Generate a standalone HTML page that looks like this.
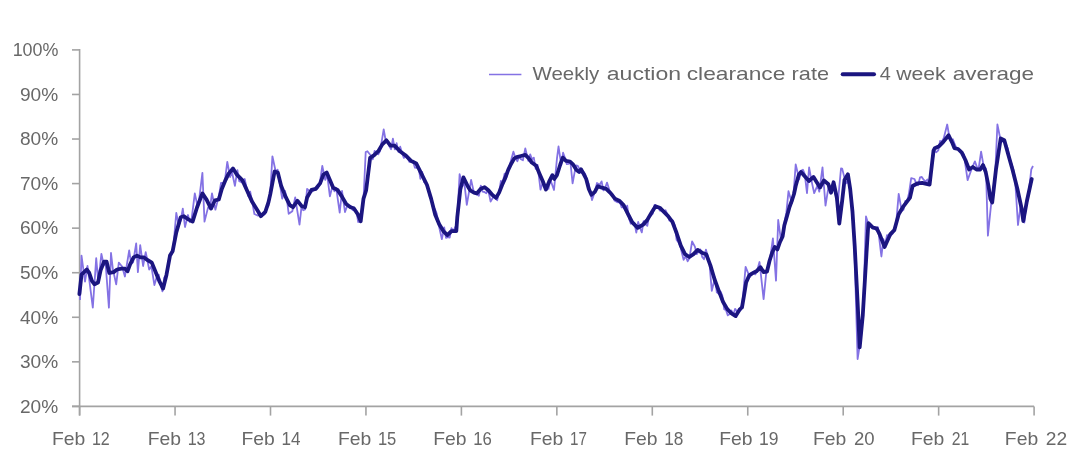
<!DOCTYPE html>
<html><head><meta charset="utf-8"><style>
html,body{margin:0;padding:0;background:#fff;}
body{width:1082px;height:461px;overflow:hidden;position:relative;}
svg{position:absolute;left:0;top:0;filter:blur(0.45px);}
text{font-family:"Liberation Sans",sans-serif;font-size:18.4px;fill:#686868;}
</style></head><body>
<svg width="1082" height="461" viewBox="0 0 1082 461">
<g stroke="#a3a3a3" stroke-width="1.6" fill="none">
<line x1="79.6" y1="49.1" x2="79.6" y2="415.6"/>
<line x1="72" y1="406.4" x2="1034.1" y2="406.4"/>
<line x1="72" y1="49.9" x2="79.6" y2="49.9"/><line x1="72" y1="94.4625" x2="79.6" y2="94.4625"/><line x1="72" y1="139.025" x2="79.6" y2="139.025"/><line x1="72" y1="183.5875" x2="79.6" y2="183.5875"/><line x1="72" y1="228.15" x2="79.6" y2="228.15"/><line x1="72" y1="272.7125" x2="79.6" y2="272.7125"/><line x1="72" y1="317.275" x2="79.6" y2="317.275"/><line x1="72" y1="361.8375" x2="79.6" y2="361.8375"/><line x1="72" y1="406.4" x2="79.6" y2="406.4"/><line x1="79.60" y1="406.4" x2="79.60" y2="415.6"/><line x1="175.05" y1="406.4" x2="175.05" y2="415.6"/><line x1="270.50" y1="406.4" x2="270.50" y2="415.6"/><line x1="365.95" y1="406.4" x2="365.95" y2="415.6"/><line x1="461.40" y1="406.4" x2="461.40" y2="415.6"/><line x1="556.85" y1="406.4" x2="556.85" y2="415.6"/><line x1="652.30" y1="406.4" x2="652.30" y2="415.6"/><line x1="747.75" y1="406.4" x2="747.75" y2="415.6"/><line x1="843.20" y1="406.4" x2="843.20" y2="415.6"/><line x1="938.65" y1="406.4" x2="938.65" y2="415.6"/><line x1="1034.10" y1="406.4" x2="1034.10" y2="415.6"/>
</g>
<text transform="translate(12.63,56.20) scale(0.9739,1)">100%</text><text transform="translate(20.00,100.76) scale(1.0378,1)">90%</text><text transform="translate(20.00,145.33) scale(1.0378,1)">80%</text><text transform="translate(20.00,189.89) scale(1.0378,1)">70%</text><text transform="translate(20.00,234.45) scale(1.0378,1)">60%</text><text transform="translate(20.00,279.01) scale(1.0378,1)">50%</text><text transform="translate(20.00,323.57) scale(1.0378,1)">40%</text><text transform="translate(20.00,368.14) scale(1.0378,1)">30%</text><text transform="translate(20.00,412.70) scale(1.0378,1)">20%</text><text transform="translate(51.95,445.00) scale(1.0516,1)">Feb</text><text transform="translate(91.93,445.00) scale(0.8737,1)">12</text><text transform="translate(147.65,445.00) scale(1.0516,1)">Feb</text><text transform="translate(187.63,445.00) scale(0.8737,1)">13</text><text transform="translate(241.55,445.00) scale(1.0516,1)">Feb</text><text transform="translate(281.47,445.00) scale(0.9300,1)">14</text><text transform="translate(337.95,445.00) scale(1.0516,1)">Feb</text><text transform="translate(377.90,445.00) scale(0.9000,1)">15</text><text transform="translate(433.25,445.00) scale(1.0516,1)">Feb</text><text transform="translate(473.19,445.00) scale(0.9105,1)">16</text><text transform="translate(529.95,445.00) scale(1.0516,1)">Feb</text><text transform="translate(569.97,445.00) scale(0.8263,1)">17</text><text transform="translate(624.25,445.00) scale(1.0516,1)">Feb</text><text transform="translate(664.16,445.00) scale(0.9368,1)">18</text><text transform="translate(719.15,445.00) scale(1.0516,1)">Feb</text><text transform="translate(759.05,445.00) scale(0.9526,1)">19</text><text transform="translate(813.05,445.00) scale(1.0516,1)">Feb</text><text transform="translate(853.90,445.00) scale(1.0095,1)">20</text><text transform="translate(910.95,445.00) scale(1.0516,1)">Feb</text><text transform="translate(951.80,445.00) scale(0.8550,1)">21</text><text transform="translate(1004.85,445.00) scale(1.0516,1)">Feb</text><text transform="translate(1045.70,445.00) scale(1.0450,1)">22</text><text transform="translate(532.50,80.00) scale(1.1133,1)">Weekly</text><text transform="translate(606.80,80.00) scale(1.2525,1)">auction</text><text transform="translate(686.70,80.00) scale(1.2375,1)">clearance</text><text transform="translate(791.60,80.00) scale(1.1812,1)">rate</text><text transform="translate(879.80,80.00) scale(1.0800,1)">4</text><text transform="translate(896.20,80.00) scale(1.1512,1)">week</text><text transform="translate(952.80,80.00) scale(1.2242,1)">average</text>
<path d="M80.0,300.0 L81.5,255.6 L85.0,281.7 L87.5,266.0 L92.8,307.7 L96.2,258.2 L98.3,282.4 L101.4,253.9 L103.8,265.0 L105.6,263.3 L108.9,307.7 L111.0,253.0 L112.9,269.4 L116.2,284.3 L118.8,262.6 L122.1,266.5 L124.9,276.5 L129.2,250.4 L131.2,263.8 L133.1,262.3 L136.2,243.5 L137.9,272.1 L140.2,245.2 L143.1,266.0 L145.7,252.2 L149.2,269.5 L151.4,266.3 L154.4,285.1 L156.9,276.4 L158.7,274.7 L160.5,283.7 L162.4,291.3 L164.2,277.7 L166.0,275.7 L167.8,267.0 L169.7,254.8 L171.5,254.7 L173.3,247.4 L176.3,212.9 L178.8,225.8 L180.7,220.4 L182.8,208.6 L185.0,227.0 L188.0,215.0 L189.8,222.1 L191.6,219.1 L194.8,193.4 L197.1,204.1 L199.0,200.7 L202.4,172.8 L204.5,221.6 L208.1,207.4 L209.9,208.3 L212.0,193.4 L215.4,209.7 L219.1,194.9 L221.0,183.0 L224.6,182.8 L227.3,161.9 L230.1,177.0 L231.9,171.7 L234.9,185.8 L237.4,170.2 L239.2,181.2 L241.0,182.0 L242.9,182.9 L244.7,179.0 L246.5,187.5 L248.4,196.2 L250.2,191.7 L252.0,200.9 L254.4,214.0 L257.5,215.5 L259.3,215.3 L261.2,215.4 L263.0,215.1 L264.8,214.3 L266.7,208.1 L268.5,205.8 L270.3,192.0 L272.4,156.3 L275.8,172.0 L277.6,169.6 L279.5,182.2 L282.2,198.6 L285.0,190.9 L286.8,198.7 L288.7,213.8 L292.3,211.2 L295.2,197.5 L299.5,224.6 L301.4,207.9 L303.3,210.3 L305.1,209.5 L307.1,188.8 L310.6,192.0 L312.4,191.5 L314.2,188.6 L316.1,189.3 L317.9,188.0 L319.7,183.9 L322.3,166.0 L325.2,179.9 L327.1,174.4 L329.9,196.4 L332.5,186.1 L334.4,191.3 L336.2,188.2 L339.7,212.7 L342.0,191.0 L345.0,212.0 L347.2,206.0 L349.0,206.9 L350.8,205.9 L352.7,210.0 L354.5,210.3 L356.3,210.5 L358.2,222.0 L360.0,220.7 L361.8,210.4 L363.6,197.8 L365.7,152.0 L367.4,151.2 L371.0,155.8 L372.8,159.3 L374.6,151.0 L376.5,152.8 L378.3,154.3 L380.1,150.8 L383.7,129.5 L385.6,140.0 L387.4,140.6 L389.3,146.1 L391.1,149.2 L392.9,138.7 L394.8,149.4 L396.6,143.2 L398.4,151.9 L400.2,146.7 L402.1,153.3 L403.9,157.9 L405.7,155.1 L407.6,158.0 L409.4,161.8 L411.2,161.4 L413.1,161.5 L414.9,167.7 L416.7,167.8 L418.5,167.2 L420.4,178.8 L422.2,171.8 L424.0,182.0 L425.9,181.9 L427.7,187.7 L429.5,195.6 L431.4,200.3 L433.2,208.9 L435.0,209.2 L436.8,213.9 L438.7,225.0 L441.9,239.2 L444.2,227.3 L446.0,237.9 L447.8,237.1 L449.7,237.6 L451.5,228.1 L453.3,231.1 L455.1,227.5 L457.0,224.0 L459.6,174.2 L462.5,186.0 L464.3,182.4 L466.8,204.8 L471.1,179.9 L473.4,190.3 L475.3,194.2 L477.1,194.5 L478.9,195.8 L480.8,185.6 L482.6,191.7 L484.4,192.0 L486.3,193.2 L488.1,189.5 L490.6,201.6 L493.6,196.3 L495.4,197.8 L497.2,200.3 L499.1,191.8 L500.9,181.0 L502.7,182.4 L504.6,173.6 L506.4,177.4 L508.2,170.8 L510.0,164.1 L513.4,151.7 L515.5,158.0 L517.4,161.2 L519.2,156.3 L521.0,159.3 L522.9,160.3 L525.3,148.4 L528.3,160.8 L530.2,154.3 L532.0,159.2 L533.8,157.7 L535.7,168.8 L537.5,164.9 L540.5,189.7 L543.0,181.7 L544.8,184.7 L546.6,188.4 L548.5,188.9 L550.3,179.5 L554.0,190.0 L557.0,158.2 L558.5,146.5 L561.3,165.2 L563.1,152.7 L564.9,157.8 L566.8,164.2 L568.6,163.8 L570.4,162.0 L572.6,183.4 L575.9,165.3 L577.8,165.9 L579.6,169.2 L581.4,173.0 L583.3,171.5 L585.1,173.9 L586.9,179.3 L588.7,183.9 L592.0,200.0 L594.2,193.6 L597.0,183.0 L599.7,184.8 L601.6,181.4 L603.4,190.4 L605.2,187.7 L607.0,182.6 L608.9,188.6 L610.7,194.2 L612.5,194.1 L614.4,200.4 L616.2,201.6 L618.0,202.3 L619.9,202.4 L621.7,207.4 L623.5,207.1 L625.3,210.1 L627.2,205.7 L629.0,218.8 L630.8,223.7 L632.7,221.8 L634.5,223.1 L636.3,232.7 L638.2,222.0 L640.0,228.0 L641.8,232.4 L643.6,221.1 L645.5,224.3 L647.3,225.9 L649.1,216.4 L651.0,215.5 L652.8,213.6 L654.6,204.8 L656.5,206.3 L658.3,208.2 L660.1,210.8 L661.9,209.8 L663.8,211.1 L665.6,210.3 L667.4,214.3 L669.3,220.5 L671.1,220.4 L672.9,220.5 L674.8,225.4 L676.6,240.0 L678.4,242.1 L680.2,246.0 L683.6,259.8 L685.7,256.2 L687.6,261.3 L689.4,258.3 L692.1,241.5 L694.9,246.6 L696.7,254.2 L698.5,251.5 L700.4,249.4 L702.2,257.0 L704.0,259.2 L705.9,249.6 L707.7,256.0 L709.5,264.0 L711.8,290.8 L715.0,277.5 L716.8,292.3 L718.7,293.8 L720.5,291.4 L722.3,295.7 L724.2,309.2 L726.0,310.1 L727.8,315.4 L729.7,314.0 L731.5,310.5 L733.3,315.3 L735.1,308.8 L737.0,311.6 L738.8,310.9 L740.6,310.2 L742.5,302.4 L745.6,266.8 L746.1,268.2 L749.8,277.1 L751.6,274.5 L753.4,271.8 L755.3,274.4 L757.1,270.8 L759.5,262.0 L763.6,299.1 L766.3,272.1 L768.1,267.0 L769.9,260.3 L772.9,238.4 L776.0,280.6 L778.2,220.0 L780.9,239.5 L782.7,237.2 L784.6,221.5 L786.4,212.2 L788.5,191.2 L791.9,203.0 L793.7,191.5 L795.7,164.4 L799.2,179.3 L801.0,170.8 L802.9,169.7 L804.7,173.8 L807.0,193.2 L809.1,167.5 L812.0,183.1 L814.2,193.2 L817.5,185.4 L819.3,191.7 L822.5,167.4 L825.5,205.6 L828.5,186.9 L830.3,189.6 L832.1,191.7 L834.0,185.9 L835.8,195.6 L837.6,205.0 L841.0,168.5 L842.2,168.6 L844.9,179.6 L846.8,183.2 L848.6,177.7 L850.4,194.2 L852.3,212.6 L854.1,236.5 L857.6,359.0 L859.6,346.0 L861.4,333.1 L863.2,310.2 L866.0,216.4 L868.7,225.3 L870.6,226.0 L872.4,227.4 L874.2,227.1 L876.1,230.4 L877.9,227.3 L881.4,256.5 L883.4,239.2 L885.2,244.4 L887.0,235.2 L888.9,235.4 L890.7,235.6 L892.5,233.8 L894.4,229.8 L896.2,222.6 L898.7,193.8 L901.7,210.9 L903.5,209.7 L905.3,200.9 L907.2,200.8 L909.0,193.1 L911.2,178.1 L914.5,179.0 L916.3,183.9 L918.1,185.3 L920.0,177.4 L921.8,177.0 L923.6,179.7 L925.5,181.6 L927.3,179.5 L929.1,184.6 L931.0,173.7 L932.8,159.0 L934.6,150.8 L936.4,152.2 L938.3,150.3 L940.1,141.0 L941.9,141.7 L943.8,137.9 L947.2,124.5 L949.3,136.7 L951.1,142.0 L952.9,139.2 L954.7,144.2 L956.6,148.6 L958.4,148.7 L960.2,150.1 L962.1,153.0 L963.9,154.5 L967.6,180.1 L972.0,168.0 L974.9,161.4 L976.7,166.4 L978.5,169.6 L981.1,151.6 L984.0,168.1 L985.9,168.3 L987.9,235.7 L991.3,202.3 L993.2,196.0 L995.0,177.9 L997.4,124.5 L1000.5,139.7 L1002.3,141.6 L1004.2,141.1 L1006.0,144.0 L1007.8,148.6 L1009.6,158.3 L1011.5,163.6 L1013.3,169.2 L1015.1,179.6 L1018.0,225.0 L1020.6,205.6 L1022.5,213.5 L1024.3,222.6 L1026.1,204.4 L1027.9,199.8 L1031.3,169.3 L1033.0,166.0" fill="none" stroke="#8472e4" stroke-width="1.8" stroke-linejoin="round"/>
<path d="M79.4,294.0 L81.5,274.7 L84.1,272.1 L86.7,269.5 L89.3,273.0 L91.9,280.8 L94.5,284.3 L98.0,282.5 L100.6,270.4 L104.0,261.7 L106.6,261.7 L109.3,273.0 L113.6,272.1 L117.1,269.5 L121.4,268.6 L124.9,268.6 L127.5,271.3 L130.1,264.3 L133.6,257.4 L137.0,255.6 L140.5,257.4 L144.0,257.4 L147.4,260.0 L151.8,262.6 L155.3,271.3 L159.6,281.7 L163.1,288.6 L166.5,274.7 L170.0,255.6 L172.6,251.3 L176.3,232.4 L180.7,217.2 L183.9,216.2 L188.3,219.4 L192.6,221.6 L197.0,207.5 L202.4,193.4 L206.7,199.9 L211.0,208.6 L215.0,200.3 L218.8,199.5 L221.8,188.9 L225.6,179.8 L228.6,173.7 L233.0,168.4 L237.1,174.9 L242.5,180.4 L246.8,190.1 L252.3,202.1 L257.7,210.7 L260.9,216.2 L265.3,211.8 L268.5,202.1 L270.3,194.2 L274.6,171.5 L277.8,172.5 L281.1,185.6 L285.4,196.4 L289.8,205.1 L293.0,207.2 L297.4,200.7 L301.7,206.2 L305.0,207.2 L307.1,197.5 L311.5,189.9 L315.8,188.8 L320.1,183.4 L323.4,174.7 L326.7,172.5 L329.9,180.1 L333.2,187.7 L337.5,189.9 L341.8,196.4 L346.2,204.0 L350.5,207.2 L353.8,208.3 L358.1,214.8 L360.7,221.3 L363.5,198.6 L366.1,190.5 L370.1,157.9 L374.2,155.2 L378.3,151.2 L382.3,144.4 L386.4,140.3 L390.5,145.7 L394.5,145.7 L399.9,151.2 L405.4,155.2 L410.8,160.7 L416.2,163.4 L421.6,174.2 L427.0,185.0 L431.1,198.6 L435.2,214.8 L439.2,224.3 L443.3,231.1 L447.4,235.2 L451.4,231.1 L456.3,231.1 L457.3,217.0 L460.3,189.5 L463.4,177.4 L465.6,181.9 L467.9,186.5 L470.2,190.3 L474.0,192.6 L477.0,193.3 L480.8,188.8 L484.6,187.2 L488.4,190.3 L492.2,194.8 L496.0,197.9 L499.1,192.6 L502.1,185.0 L505.2,178.1 L508.2,169.8 L511.2,163.7 L514.3,158.4 L516.7,157.1 L521.0,156.0 L525.3,154.9 L528.6,158.2 L531.8,162.5 L536.2,165.8 L539.4,173.4 L542.7,181.0 L545.9,189.5 L549.1,181.7 L552.4,175.2 L554.3,179.0 L556.9,175.2 L560.2,164.7 L562.8,157.6 L566.0,160.8 L570.0,161.5 L573.2,164.7 L576.5,170.0 L579.1,171.9 L581.0,169.3 L583.6,173.9 L586.2,179.0 L588.8,189.0 L591.4,194.7 L594.7,192.1 L597.9,186.2 L601.9,187.7 L606.2,188.8 L610.6,193.1 L614.9,198.6 L619.2,200.7 L623.6,205.1 L627.9,213.8 L632.3,222.4 L637.7,227.9 L643.1,224.6 L647.0,220.4 L651.2,213.3 L655.5,206.3 L659.7,207.7 L663.9,211.9 L668.1,216.1 L672.4,221.8 L676.6,233.0 L680.8,245.7 L685.0,254.2 L689.3,257.0 L693.5,254.2 L697.7,249.9 L701.9,252.7 L706.2,254.2 L710.4,265.4 L714.6,279.5 L718.8,290.8 L723.1,302.0 L727.3,309.1 L731.5,313.3 L735.7,316.1 L740.0,309.1 L742.0,307.4 L744.1,295.0 L746.1,282.6 L749.2,275.4 L752.3,273.4 L756.4,271.3 L760.5,267.2 L763.5,272.0 L767.0,271.5 L769.5,261.0 L772.2,252.5 L774.8,247.0 L777.4,249.5 L780.0,242.0 L782.6,236.5 L784.3,225.5 L786.9,216.5 L789.5,207.0 L792.1,200.0 L794.0,194.0 L795.7,186.0 L798.8,174.7 L801.0,172.0 L804.3,175.8 L808.9,181.0 L813.5,177.0 L820.0,187.5 L823.9,180.4 L828.4,184.3 L831.0,192.8 L833.6,182.3 L836.9,198.0 L839.3,223.5 L842.2,200.5 L844.5,180.0 L847.9,174.3 L850.2,189.1 L852.5,211.8 L854.7,245.9 L857.6,302.0 L859.7,347.4 L862.8,315.0 L866.7,250.0 L868.4,223.2 L872.9,227.7 L876.7,228.3 L879.8,234.6 L884.6,247.1 L890.4,234.1 L894.3,230.2 L898.7,214.2 L903.4,206.3 L910.0,197.6 L912.6,186.0 L917.8,183.3 L922.2,182.8 L929.6,184.6 L933.5,150.7 L934.8,148.2 L939.1,146.2 L943.1,142.1 L948.6,135.3 L952.6,143.5 L954.4,148.1 L958.1,149.0 L961.8,152.7 L965.4,160.0 L969.1,169.5 L972.8,167.0 L976.5,169.5 L980.2,169.5 L983.0,165.0 L985.7,172.0 L988.5,186.0 L990.4,199.0 L992.2,202.5 L996.0,169.3 L1000.7,138.5 L1004.3,140.2 L1007.9,153.3 L1012.6,170.0 L1017.4,189.0 L1021.5,208.0 L1023.3,221.0 L1026.9,201.0 L1031.7,179.0" fill="none" stroke="#1b1580" stroke-width="3.8" stroke-linejoin="round" stroke-linecap="round"/>
<line x1="489" y1="74.5" x2="521.4" y2="74.5" stroke="#8472e4" stroke-width="1.5"/>
<line x1="842.7" y1="74.3" x2="874" y2="74.3" stroke="#1b1580" stroke-width="4" stroke-linecap="round"/>
</svg>
</body></html>
